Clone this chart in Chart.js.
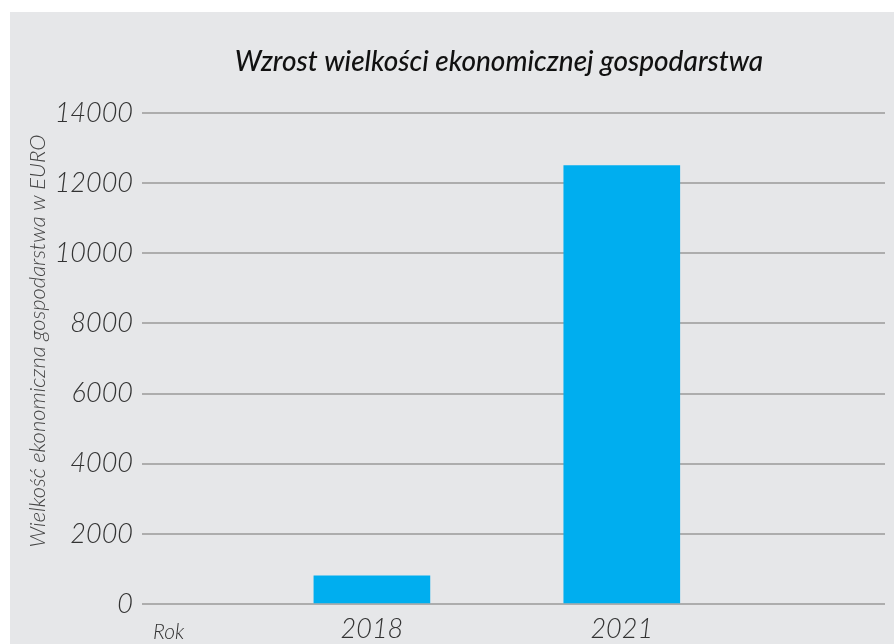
<!DOCTYPE html>
<html>
<head>
<meta charset="utf-8">
<script src="https://cdn.jsdelivr.net/npm/chart.js@4"></script>
<style>
    body { margin: 0; background: #ffffff; }
    #panel { position: absolute; left: 10px; top: 12px; width: 884px; height: 632px; background: #e6e7e9; }
</style>
</head>
<body>
<div id="panel"><canvas id="farmChart"></canvas></div>
<script>
// data
const years = [2018, 2021];
const values = [800, 12500];
const yTicks = [0, 2000, 4000, 6000, 8000, 10000, 12000, 14000];

const chartTitle = 'Wzrost wielkości ekonomicznej gospodarstwa';
const yTitle = 'Wielkość ekonomiczna gospodarstwa w EURO';
const xTitle = 'Rok';

// title above the plot, the rotated y title and the "Rok" label on the tick row
const extraLabels = {
    id: 'extraLabels',
    afterDraw(chart) {
        const ctx = chart.ctx;
        const area = chart.chartArea;
        ctx.save();
        ctx.font = 'italic 500 28px Lato';
        ctx.fillStyle = '#111111';
        ctx.textAlign = 'center';
        ctx.textBaseline = 'middle';
        ctx.fillText(chartTitle, area.left + 357, 50);

        ctx.save();
        ctx.translate(28, area.top + 228);
        ctx.rotate(-Math.PI / 2);
        ctx.font = 'italic 300 22px Lato';
        ctx.fillStyle = '#444444';
        ctx.fillText(yTitle, 0, 0);
        ctx.restore();

        ctx.font = 'italic 300 21px Lato';
        ctx.fillStyle = '#333333';
        ctx.textBaseline = 'alphabetic';
        ctx.textAlign = 'left';
        ctx.fillText(xTitle, area.left + 11, area.bottom + 35);
        ctx.restore();
    }
};

const ctx = document.getElementById('farmChart').getContext('2d');
new Chart(ctx, {
    type: 'bar',
    data: {
        datasets: [{
            data: years.map((y, i) => ({ x: y, y: values[i] })),
            backgroundColor: '#00aeef',
            borderWidth: 0,
            barThickness: 116
        }]
    },
    options: {
        responsive: true,
        maintainAspectRatio: false,
        animation: false,
        layout: { padding: { left: 0, right: 9, top: 101, bottom: 0 } },
        plugins: {
            legend: { display: false },
            tooltip: { enabled: false },
            title: { display: false }
        },
        scales: {
            x: {
                type: 'linear',
                offset: false,
                min: 2015.24,
                max: 2024.16,
                afterBuildTicks: scale => { scale.ticks = years.map(v => ({ value: v })); },
                afterFit: scale => { scale.height = 40; },
                grid: { display: false },
                border: { display: false },
                ticks: {
                    color: '#333333',
                    padding: 1,
                    font: { family: 'Lato', size: 27, style: 'italic', weight: '300' },
                    callback: v => String(v)
                }
            },
            y: {
                min: 0,
                max: 14000,
                afterBuildTicks: scale => { scale.ticks = yTicks.map(v => ({ value: v })); },
                afterFit: scale => { scale.width = 132; },
                grid: { color: '#adadad', lineWidth: 2, drawTicks: false },
                border: { display: false },
                ticks: {
                    color: '#333333',
                    padding: 9,
                    font: { family: 'Lato', size: 27, style: 'italic', weight: '300' },
                    callback: v => String(v)
                }
            }
        }
    },
    plugins: [extraLabels]
});
</script>
</body>
</html>
